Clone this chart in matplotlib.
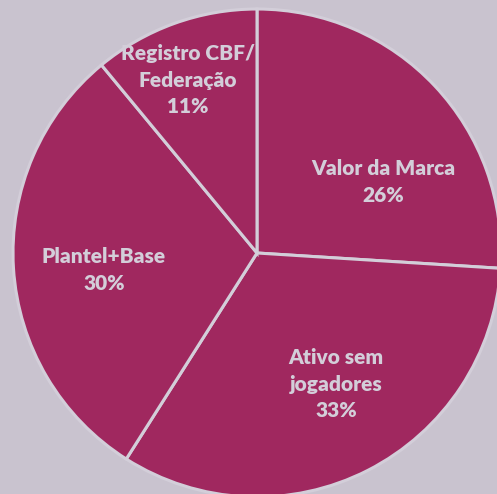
import matplotlib.pyplot as plt

# Composição do valor (%)
categorias = ['Valor da Marca', 'Ativo sem\njogadores', 'Plantel+Base', 'Registro CBF/\nFederação']
valores = [26, 33, 30, 11]

# posição dos rótulos (raio = 1)
pos_rotulos = [(0.516, 0.291), (0.324, -0.537), (-0.627, -0.070), (-0.283, 0.709)]

cor_fatia = '#A0285F'
cor_fundo = '#C9C3CF'
cor_texto = '#D3CED9'

fig = plt.figure(figsize=(4.97, 4.94), dpi=100)
fig.patch.set_facecolor(cor_fundo)
ax = fig.add_axes([0, 0, 1, 1])
ax.set_facecolor(cor_fundo)

ax.pie(valores, startangle=90, counterclock=False, radius=1,
       colors=[cor_fatia] * len(valores),
       wedgeprops=dict(edgecolor=cor_texto, linewidth=2.2))

for nome, v, (x, y) in zip(categorias, valores, pos_rotulos):
    ax.text(x, y, f'{nome}\n{v}%', ha='center', va='center',
            fontsize=15, fontweight='heavy', family='Lato',
            color=cor_texto, linespacing=1.45)

ax.set_xlim(-257 / 244, 240 / 244)
ax.set_ylim(-241 / 244, 253 / 244)
ax.set_aspect('equal')
ax.axis('off')

fig.savefig('out.png', dpi=100, facecolor=cor_fundo)
